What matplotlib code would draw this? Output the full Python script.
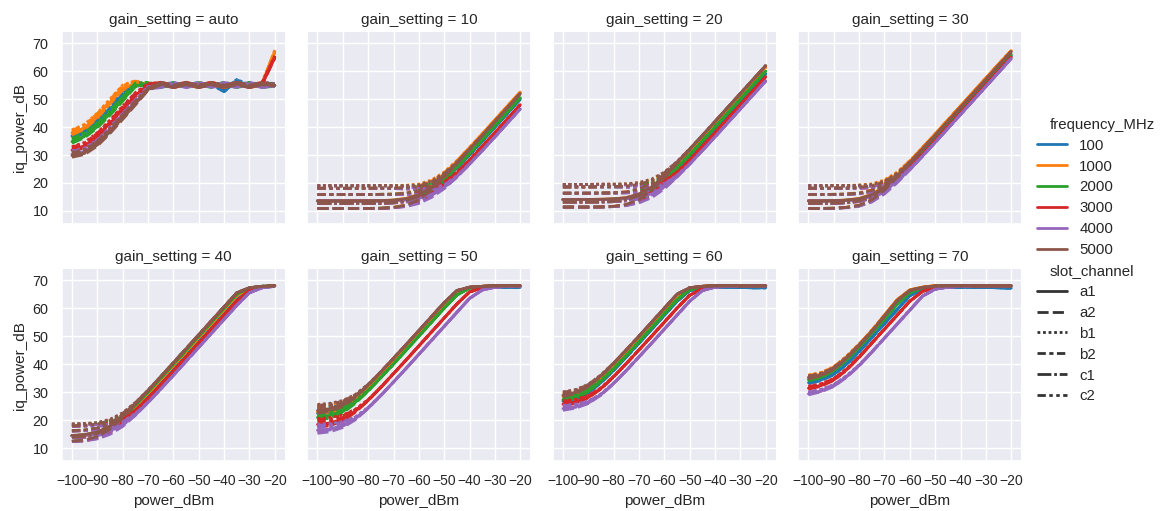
import matplotlib
matplotlib.use("Agg")
import matplotlib.pyplot as plt
import pandas as pd
import seaborn as sns

# x grid shared by every curve (dBm)
POWER_DBM = [-100, -95, -90, -85, -80, -75, -70, -65, -60, -55, -50, -45, -40, -35, -30, -25, -20]
FREQUENCIES = ["100", "1000", "2000", "3000", "4000", "5000"]
CHANNELS = ["a1", "a2", "b1", "b2", "c1", "c2"]
GAIN_SETTINGS = ["auto", "10", "20", "30", "40", "50", "60", "70"]

# where each channel sits inside the noise-floor bundle (-1 bottom .. 1 top)
CHANNEL_POS = [-0.2, -0.8, 1.0, 0.3, -0.4, 0.8]

# iq_power_dB per frequency (rows follow FREQUENCIES)
GAIN_AUTO = [
    [37, 38.5, 42, 46.5, 51.5, 55.5, 54.5, 55.5, 54.5, 55.5, 54.5, 55.5, 53, 56.5, 54.5, 55.5, 55],
    [38, 40, 44, 49, 54, 55.8, 54.5, 55.5, 54.5, 55.5, 54.5, 55.5, 54.5, 55.5, 54.5, 55.5, 67],
    [35, 37, 40.5, 45, 50, 55, 55.5, 54.5, 55.5, 54.5, 55.5, 54.5, 55.5, 54.5, 55.5, 54.5, 55],
    [32, 33.5, 37, 41.5, 46.5, 51.5, 55, 55.5, 54.5, 55.5, 54.5, 55.5, 54.5, 55.5, 54.5, 55.5, 65],
    [30.5, 31.5, 34.5, 39, 44, 49, 54, 54.5, 55.5, 54.5, 55.5, 54.5, 55.5, 54.5, 55.5, 54.5, 55],
    [30, 31, 34, 38.5, 43.5, 48.5, 53.5, 55.5, 54.5, 55.5, 54.5, 55.5, 54.5, 55.5, 54.5, 55.5, 55],
]
GAIN_10 = [
    [14.5, 14.5, 14.5, 14.5, 14.5, 14.5, 14.6, 15, 15.8, 17.8, 21.1, 25.4, 30.1, 35, 40, 45, 50],
    [14.5, 14.5, 14.5, 14.5, 14.5, 14.6, 14.8, 15.3, 16.6, 19.3, 23.1, 27.7, 32.6, 37.5, 42.5, 47.5, 52.5],
    [14.5, 14.5, 14.5, 14.5, 14.5, 14.6, 14.7, 15, 16, 18, 21.5, 25.8, 30.6, 35.5, 40.5, 45.5, 50.5],
    [14.5, 14.5, 14.5, 14.5, 14.5, 14.5, 14.6, 14.8, 15.4, 16.8, 19.6, 23.6, 28.2, 33.1, 38, 43, 48],
    [14.5, 14.5, 14.5, 14.5, 14.5, 14.5, 14.6, 14.7, 15.1, 16.3, 18.6, 22.3, 26.8, 31.6, 36.5, 41.5, 46.5],
    [14.5, 14.5, 14.5, 14.5, 14.5, 14.6, 14.7, 15.2, 16.4, 18.9, 22.7, 27.2, 32.1, 37, 42, 47, 52],
]
GAIN_20 = [
    [15, 15, 15, 15, 15.1, 15.3, 16, 17.5, 20.5, 24.5, 29.2, 34, 39, 44, 49, 54, 59],
    [15, 15, 15, 15.1, 15.2, 15.6, 16.6, 18.8, 22.4, 26.8, 31.6, 36.5, 41.5, 46.5, 51.5, 56.5, 61.5],
    [15, 15, 15, 15, 15.1, 15.4, 16.2, 18, 21.2, 25.4, 30.1, 35, 40, 45, 50, 55, 60],
    [15, 15, 15, 15, 15.1, 15.3, 15.8, 17.1, 19.8, 23.6, 28.2, 33.1, 38, 43, 48, 53, 58],
    [15, 15, 15, 15, 15.1, 15.2, 15.6, 16.6, 18.8, 22.4, 26.8, 31.6, 36.5, 41.5, 46.5, 51.5, 56.5],
    [15, 15, 15, 15.1, 15.2, 15.6, 16.8, 19.1, 22.8, 27.3, 32.1, 37, 42, 47, 52, 57, 62],
]
GAIN_30 = [
    [14.5, 14.5, 14.5, 14.7, 15, 16, 18, 21.5, 25.8, 30.6, 35.5, 40.5, 45.5, 50.5, 55.5, 60.5, 65.5],
    [14.5, 14.5, 14.6, 14.8, 15.3, 16.6, 19.3, 23.1, 27.7, 32.6, 37.5, 42.5, 47.5, 52.5, 57.5, 62.5, 67.3],
    [14.5, 14.5, 14.6, 14.7, 15.1, 16, 18.3, 21.9, 26.3, 31.1, 36, 41, 46, 51, 56, 61, 66],
    [14.5, 14.5, 14.5, 14.7, 15, 15.8, 17.8, 21.1, 25.4, 30.1, 35, 40, 45, 50, 55, 60, 65],
    [14.5, 14.5, 14.5, 14.6, 14.9, 15.7, 17.5, 20.7, 24.9, 29.6, 34.5, 39.5, 44.5, 49.5, 54.5, 59.5, 64.5],
    [14.5, 14.5, 14.6, 14.7, 15.2, 16.4, 18.9, 22.7, 27.2, 32.1, 37, 42, 47, 52, 57, 62, 67],
]
GAIN_40 = [
    [15.1, 15.3, 15.9, 17.3, 20.1, 24.1, 28.7, 33.5, 38.5, 43.5, 48.5, 53.5, 58.5, 63.5, 66.8, 67.6, 68],
    [15.1, 15.4, 16.1, 17.8, 20.8, 25, 29.6, 34.5, 39.5, 44.5, 49.5, 54.5, 59.5, 64.5, 67, 67.7, 68],
    [15.1, 15.4, 16.2, 18, 21.2, 25.4, 30.1, 35, 40, 45, 50, 55, 60, 65, 67.2, 67.8, 68],
    [15.1, 15.2, 15.7, 16.9, 19.4, 23.2, 27.7, 32.6, 37.5, 42.5, 47.5, 52.5, 57.5, 62.5, 66.3, 67.5, 68],
    [15, 15.2, 15.5, 16.5, 18.5, 22, 26.3, 31.1, 36, 41, 46, 51, 56, 61, 65.5, 67.3, 67.8],
    [15.2, 15.5, 16.3, 18.3, 21.6, 25.9, 30.6, 35.5, 40.5, 45.5, 50.5, 55.5, 60.5, 65.5, 67.3, 67.8, 68],
]
GAIN_50 = [
    [22.8, 23.4, 24.8, 27.6, 31.6, 36.2, 41.1, 46, 51, 56, 61, 65.7, 67.3, 67.6, 67.6, 67.5, 67.5],
    [23.3, 23.9, 25.3, 28.1, 32.1, 36.7, 41.6, 46.5, 51.5, 56.5, 61.5, 66, 67.4, 67.8, 68, 68, 68],
    [21.3, 22, 23.5, 26.5, 30.5, 35.2, 40, 45, 50, 55, 60, 64.7, 67.2, 67.7, 68, 68, 68],
    [18.8, 19.3, 20.6, 23.3, 27.1, 31.7, 36.6, 41.5, 46.5, 51.5, 56.5, 61.5, 65.8, 67.3, 67.8, 68, 68],
    [16.7, 17.1, 18.3, 20.6, 24.3, 28.8, 33.6, 38.5, 43.5, 48.5, 53.5, 58.5, 63.5, 66.5, 67.5, 67.8, 67.8],
    [23.8, 24.4, 25.8, 28.6, 32.6, 37.2, 42.1, 47, 52, 57, 62, 66.3, 67.5, 67.8, 68, 68, 68],
]
GAIN_60 = [
    [27, 28, 30, 33.5, 37.8, 42.6, 47.5, 52.5, 57.5, 62.5, 66.3, 67.3, 67.5, 67.5, 67.4, 67.3, 67.3],
    [28.6, 29.6, 31.8, 35.4, 39.8, 44.6, 49.5, 54.5, 59.5, 64.5, 67.2, 67.8, 68, 68, 68, 68, 68],
    [27.5, 28.5, 30.5, 34, 38.3, 43.1, 48, 53, 58, 63, 66.6, 67.6, 68, 68, 68, 68, 68],
    [25.9, 26.6, 28.3, 31.3, 35.5, 40.2, 45.1, 50, 55, 60, 64.6, 67, 67.7, 68, 68, 68, 68],
    [24.3, 24.9, 26.3, 29.1, 33.1, 37.7, 42.6, 47.5, 52.5, 57.5, 62.5, 66.3, 67.5, 67.8, 68, 68, 68],
    [29.1, 30.1, 32.3, 35.9, 40.3, 45.1, 50, 55, 60, 65, 67.3, 67.8, 68, 68, 68, 68, 68],
]
GAIN_70 = [
    [33.5, 34.5, 36.5, 40, 44.5, 49.5, 54.5, 59.5, 64.5, 66.8, 67.4, 67.5, 67.5, 67.5, 67.4, 67.3, 67.2],
    [35.5, 36.5, 38.7, 42.5, 47, 52, 57.5, 63, 66.5, 67.5, 68, 68, 68, 68, 68, 68, 68],
    [34.5, 35.5, 37.8, 41.5, 46, 51, 56, 61.5, 65.5, 67.3, 67.8, 68, 68, 68, 68, 68, 68],
    [31.5, 32.5, 34.5, 38, 42.5, 47.5, 52.5, 57.5, 62.5, 66, 67.3, 67.8, 68, 68, 68, 68, 68],
    [29.5, 30.5, 32.3, 35.5, 39.5, 44.3, 49.3, 54.3, 59.3, 64.3, 66.8, 67.5, 67.8, 68, 68, 68, 68],
    [35.2, 36.2, 38.4, 42.2, 46.7, 51.7, 57.2, 62.7, 66.3, 67.4, 67.9, 68, 68, 68, 68, 68, 68],
]

# half-width (dB) of the slot_channel bundle at each power, per gain setting
SPREAD_AUTO = [1, 1, 1, 1, 1, 0.8, 0.5, 0.5, 0.5, 0.5, 0.5, 0.5, 0.5, 0.5, 0.5, 0.5, 0.5]
SPREAD_10 = [4.5, 4.5, 4.5, 4.5, 4.5, 4.5, 4.3, 3.9, 3, 1.8, 0.8, 0.3, 0.1, 0, 0, 0, 0]
SPREAD_20 = [4.5, 4.5, 4.5, 4.5, 4.4, 4.1, 3.4, 2.3, 1.1, 0.4, 0.1, 0, 0, 0, 0, 0, 0]
SPREAD_30 = [4.5, 4.5, 4.5, 4.3, 4, 3.1, 1.8, 0.8, 0.3, 0.1, 0, 0, 0, 0, 0, 0, 0]
SPREAD_40 = [3.4, 3.3, 2.8, 2, 1, 0.4, 0.1, 0, 0, 0, 0, 0, 0, 0, 0, 0, 0]
SPREAD_50 = [1.8, 1.6, 1.2, 0.6, 0.2, 0.1, 0, 0, 0, 0, 0, 0, 0, 0, 0, 0, 0]
SPREAD_60 = [1, 0.8, 0.5, 0.25, 0.1, 0, 0, 0, 0, 0, 0, 0, 0, 0, 0, 0, 0]
SPREAD_70 = [0.6, 0.5, 0.4, 0.3, 0.2, 0.1, 0, 0, 0, 0, 0, 0, 0, 0, 0, 0, 0]

curves = [GAIN_AUTO, GAIN_10, GAIN_20, GAIN_30, GAIN_40, GAIN_50, GAIN_60, GAIN_70]
spreads = [SPREAD_AUTO, SPREAD_10, SPREAD_20, SPREAD_30, SPREAD_40, SPREAD_50, SPREAD_60, SPREAD_70]

rows = []
for gain, gain_curves, spread in zip(GAIN_SETTINGS, curves, spreads):
    for freq, curve in zip(FREQUENCIES, gain_curves):
        for ch, pos in zip(CHANNELS, CHANNEL_POS):
            for x, y, s in zip(POWER_DBM, curve, spread):
                rows.append((gain, freq, ch, x, y + pos * s))
df = pd.DataFrame(rows, columns=["gain_setting", "frequency_MHz", "slot_channel", "power_dBm", "iq_power_dB"])

sns.set_theme(style="darkgrid")
plt.rcParams["font.family"] = ["Liberation Sans", "DejaVu Sans"]
plt.rcParams.update({
    "axes.titlesize": 12.4,
    "axes.labelsize": 11,
    "xtick.labelsize": 10,
    "ytick.labelsize": 10.4,
    "legend.fontsize": 10.8,
})

g = sns.relplot(
    data=df, x="power_dBm", y="iq_power_dB",
    hue="frequency_MHz", style="slot_channel", col="gain_setting",
    hue_order=FREQUENCIES, style_order=CHANNELS, col_order=GAIN_SETTINGS,
    col_wrap=4, kind="line", palette=sns.color_palette("tab10", 6),
    errorbar=None, linewidth=2.0, height=2.5, aspect=1.0,
)
g.set(ylim=(5.4, 73.9), xticks=list(range(-100, -10, 10)), yticks=list(range(10, 80, 10)))

fig = g.figure
fig.set_size_inches(11.66, 5.11)
fig.subplots_adjust(left=0.053, right=0.876, top=0.937, bottom=0.098, wspace=0.1, hspace=0.237)

# rebuild the legend where the reference has it; subtitle rows start at the handle column
old = g.legend
handles = list(old.legend_handles)
labels = [t.get_text() for t in old.texts]
old.remove()
leg = fig.legend(handles, labels, loc="upper left", bbox_to_anchor=(0.878, 0.796),
                 frameon=False, labelspacing=0.46, fontsize=10.8)
subtitles = ("frequency_MHz", "slot_channel")
for column in leg._legend_handle_box.get_children():
    for hpack in column.get_children():
        draw_area, text_area = hpack.get_children()
        if text_area.get_children()[0].get_text() in subtitles:
            draw_area.set_width(0)
            for artist in draw_area.get_children():
                artist.set_visible(False)

fig.savefig("out.png", dpi=100)
